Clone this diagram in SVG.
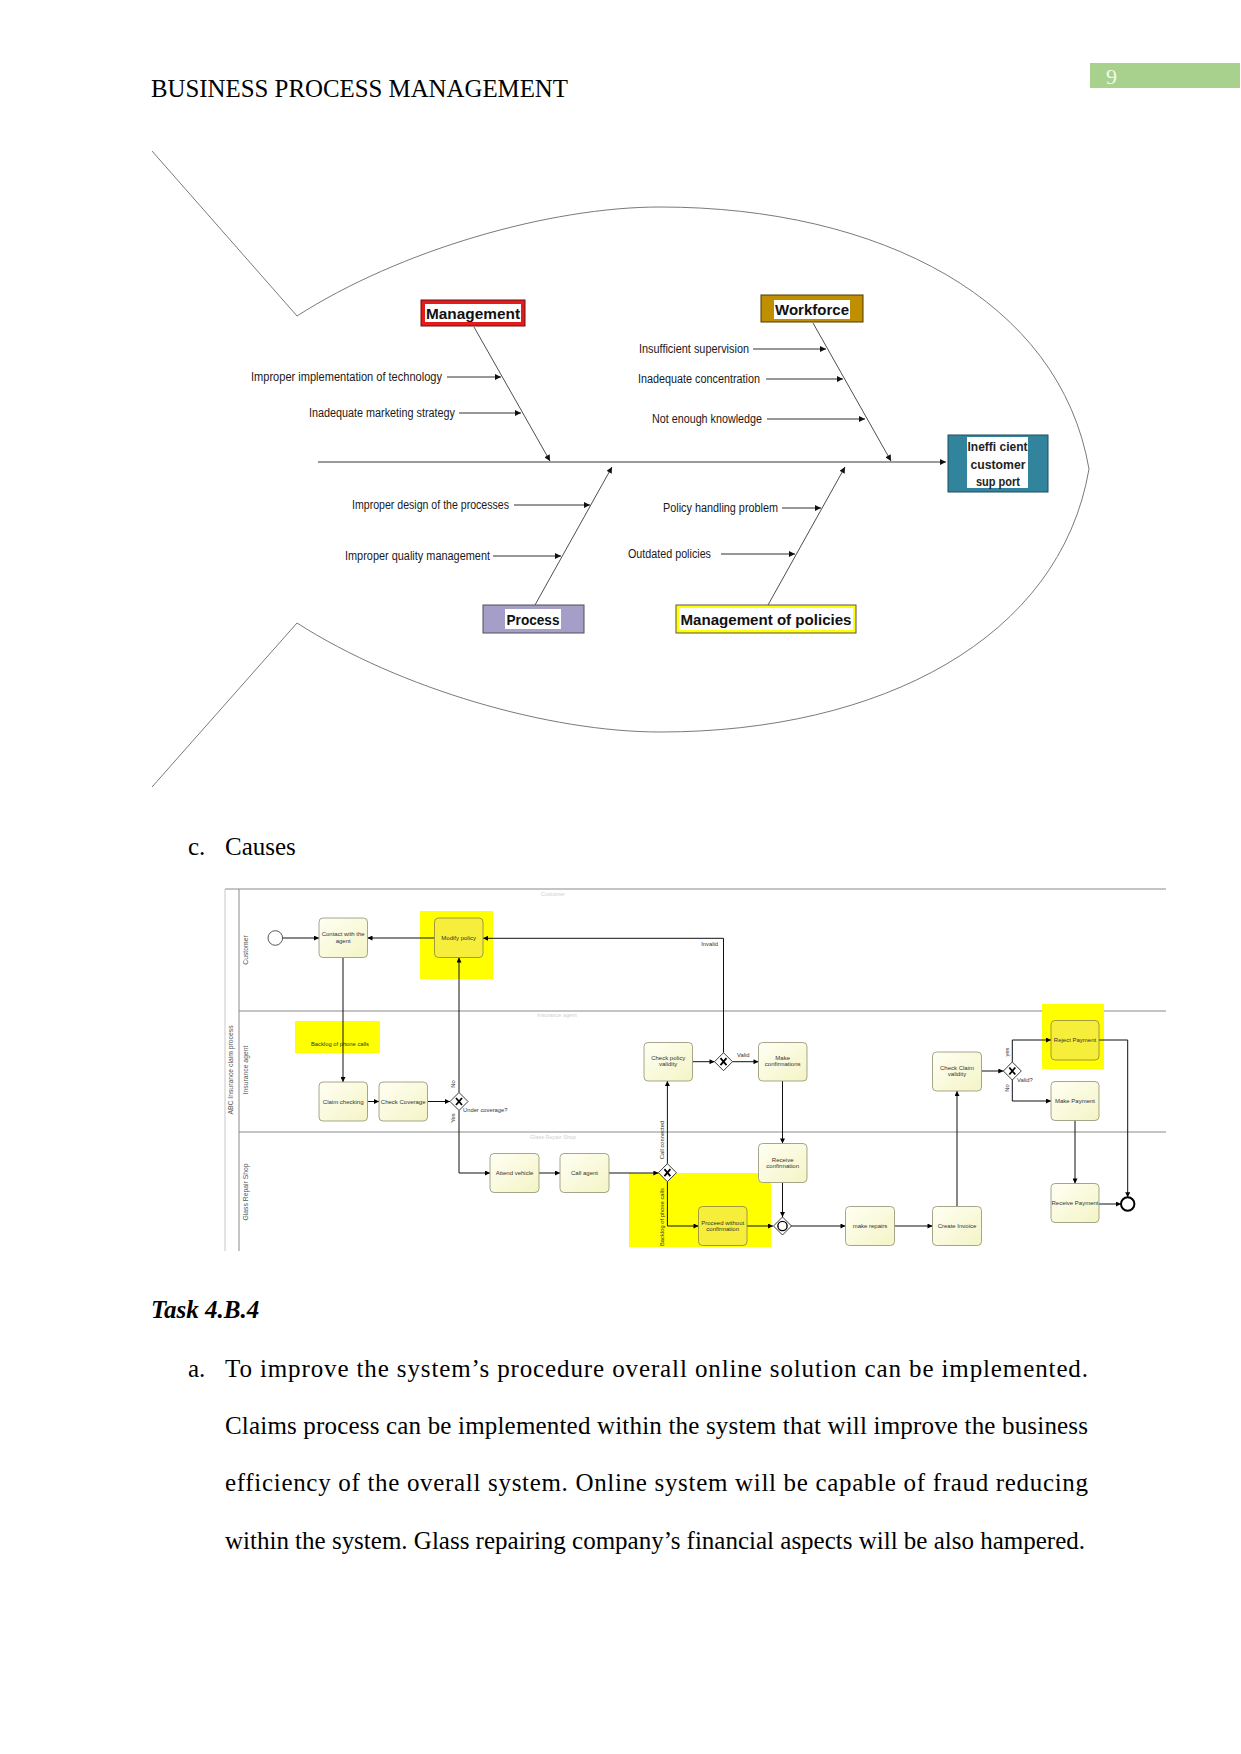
<svg xmlns="http://www.w3.org/2000/svg" width="1241" height="1754" viewBox="0 0 1241 1754">
<style>
.doc{font-family:"Liberation Serif","Times New Roman",serif;font-size:25px;fill:#000}
.fish{fill:none;stroke:#7a7a7a;stroke-width:1}
.spine{fill:none;stroke:#9a9a9a;stroke-width:2}
.bone{fill:none;stroke:#3a3a3a;stroke-width:0.9}
.cause{fill:none;stroke:#1a1a1a;stroke-width:0.9}
.lbl{font-family:"Liberation Sans",Arial,sans-serif;font-size:12.5px;fill:#1a1a1a}
.blbl{font-family:"Liberation Sans",Arial,sans-serif;font-weight:bold;font-size:15px;fill:#111}
.elbl{font-family:"Liberation Sans",Arial,sans-serif;font-weight:bold;font-size:13.5px;fill:#222}
.lane{fill:none;stroke:#8a8a8a;stroke-width:1}
.task{fill:url(#tg);stroke:#8f8f72;stroke-width:0.8}
.htask{fill:#f6ee3a;stroke:#8a8440;stroke-width:0.8}
.tt{font-family:"Liberation Sans",Arial,sans-serif;font-size:6px;fill:#333;text-anchor:middle}
.sl{font-family:"Liberation Sans",Arial,sans-serif;font-size:5.8px;fill:#333}
.ln{font-family:"Liberation Sans",Arial,sans-serif;font-size:6.8px;fill:#555;text-anchor:middle}
.faint{font-family:"Liberation Sans",Arial,sans-serif;font-size:5.5px;fill:#d0d0d0;text-anchor:middle}
.flow{fill:none;stroke:#111;stroke-width:1}
.gw{fill:#fff;stroke:#222;stroke-width:0.9}
.gx{stroke:#000;stroke-width:1.8;stroke-linecap:butt}
.hl{fill:#ffff00}
</style>
<defs>
<marker id="fa" markerUnits="userSpaceOnUse" viewBox="0 0 10 10" refX="10" refY="5" markerWidth="7" markerHeight="6" orient="auto"><path d="M0,0 L10,5 L0,10 z" fill="#111"/></marker>
<marker id="ba" markerUnits="userSpaceOnUse" viewBox="0 0 10 10" refX="10" refY="5" markerWidth="6" markerHeight="5" orient="auto"><path d="M0,0 L10,5 L0,10 z" fill="#000"/></marker>
<linearGradient id="tg" x1="0" y1="0" x2="1" y2="1"><stop offset="0" stop-color="#fffff4"/><stop offset="1" stop-color="#f4f4c6"/></linearGradient>
</defs>

<!-- page header -->
<text class="doc" x="151" y="97" textLength="417" lengthAdjust="spacingAndGlyphs">BUSINESS PROCESS MANAGEMENT</text>
<rect x="1090" y="63" width="150" height="25" fill="#a9d18e"/>
<text x="1106" y="84" font-family="Liberation Serif, serif" font-size="22" fill="#f4f8f0">9</text>

<!-- fishbone outline -->
<g id="fish-outline">
<path class="fish" d="M152,151 L297,316 C400,250 550,207 660,207 C880,207 1060,300 1089,469"/>
<path class="fish" d="M152,787 L297,623 C400,689 550,732 660,732 C880,732 1060,639 1089,469"/>
</g>

<g id="fish-connectors">
<line class="spine" x1="318" y1="462" x2="946" y2="462" marker-end="url(#fa)"/>
<line class="bone" x1="474" y1="327" x2="550" y2="461" marker-end="url(#fa)"/>
<line class="bone" x1="813" y1="323" x2="891" y2="461" marker-end="url(#fa)"/>
<line class="bone" x1="535" y1="605" x2="612" y2="467" marker-end="url(#fa)"/>
<line class="bone" x1="768" y1="605" x2="845" y2="467" marker-end="url(#fa)"/>
<line class="cause" x1="447" y1="377" x2="501" y2="377" marker-end="url(#fa)"/>
<line class="cause" x1="459" y1="413" x2="521" y2="413" marker-end="url(#fa)"/>
<line class="cause" x1="753" y1="349" x2="826" y2="349" marker-end="url(#fa)"/>
<line class="cause" x1="766" y1="379" x2="843" y2="379" marker-end="url(#fa)"/>
<line class="cause" x1="767" y1="419" x2="865" y2="419" marker-end="url(#fa)"/>
<line class="cause" x1="514" y1="505" x2="590" y2="505" marker-end="url(#fa)"/>
<line class="cause" x1="493" y1="556" x2="561" y2="556" marker-end="url(#fa)"/>
<line class="cause" x1="782" y1="508" x2="821" y2="508" marker-end="url(#fa)"/>
<line class="cause" x1="721" y1="554" x2="795" y2="554" marker-end="url(#fa)"/>
</g>

<g id="cause-labels">
<text class="lbl" x="251" y="381" textLength="191" lengthAdjust="spacingAndGlyphs">Improper implementation of technology</text>
<text class="lbl" x="309" y="417" textLength="146" lengthAdjust="spacingAndGlyphs">Inadequate marketing strategy</text>
<text class="lbl" x="639" y="353" textLength="110" lengthAdjust="spacingAndGlyphs">Insufficient supervision</text>
<text class="lbl" x="638" y="383" textLength="122" lengthAdjust="spacingAndGlyphs">Inadequate concentration</text>
<text class="lbl" x="652" y="423" textLength="110" lengthAdjust="spacingAndGlyphs">Not enough knowledge</text>
<text class="lbl" x="352" y="509" textLength="157" lengthAdjust="spacingAndGlyphs">Improper design of the processes</text>
<text class="lbl" x="345" y="560" textLength="145" lengthAdjust="spacingAndGlyphs">Improper quality management</text>
<text class="lbl" x="663" y="512" textLength="115" lengthAdjust="spacingAndGlyphs">Policy handling problem</text>
<text class="lbl" x="628" y="558" textLength="83" lengthAdjust="spacingAndGlyphs">Outdated policies</text>
</g>

<g id="node-management">
<rect x="421" y="300" width="104" height="26" fill="#e31b1b" stroke="#6a1010" stroke-width="1"/>
<rect x="425" y="304" width="96" height="18" fill="#fff"/>
<text class="blbl" x="426" y="318.5" textLength="94" lengthAdjust="spacingAndGlyphs">Management</text>
</g>
<g id="node-workforce">
<rect x="761" y="295" width="102" height="27" fill="#bf8f00" stroke="#4d3a00" stroke-width="1"/>
<rect x="774" y="300" width="76" height="19" fill="#fff"/>
<text class="blbl" x="775" y="314.5" textLength="74" lengthAdjust="spacingAndGlyphs">Workforce</text>
</g>
<g id="node-process">
<rect x="483" y="605" width="101" height="28" fill="#a59ec8" stroke="#505050" stroke-width="1"/>
<rect x="505" y="609" width="56" height="20" fill="#fff"/>
<text class="blbl" x="506.5" y="625" textLength="53" lengthAdjust="spacingAndGlyphs">Process</text>
</g>
<g id="node-policies">
<rect x="676" y="605" width="180" height="28" fill="#ffff00" stroke="#555" stroke-width="1"/>
<rect x="679" y="608" width="174" height="22" fill="#fff"/>
<text class="blbl" x="680.5" y="625" textLength="171" lengthAdjust="spacingAndGlyphs">Management of policies</text>
</g>
<g id="node-effect">
<rect x="948" y="435" width="100" height="57" fill="#31849b" stroke="#1d4f5e" stroke-width="1"/>
<rect x="967" y="437" width="61" height="51" fill="#fff"/>
<text class="elbl" x="967.5" y="451" textLength="60" lengthAdjust="spacingAndGlyphs">Ineffi cient</text>
<text class="elbl" x="970.5" y="468.5" textLength="55" lengthAdjust="spacingAndGlyphs">customer</text>
<text class="elbl" x="976" y="486" textLength="44" lengthAdjust="spacingAndGlyphs">sup port</text>
</g>

<text class="doc" x="188" y="855">c.</text>
<text class="doc" x="225" y="855">Causes</text>

<!-- BPMN pool and lanes -->
<g id="pool">
<line class="lane" x1="225" y1="889" x2="1166" y2="889"/>
<line class="lane" x1="239" y1="1011" x2="1166" y2="1011"/>
<line class="lane" x1="239" y1="1132" x2="1166" y2="1132"/>
<line x1="225" y1="889" x2="225" y2="1251" stroke="#c8c8c8" stroke-width="1"/>
<line class="lane" x1="239" y1="889" x2="239" y2="1251"/>
<text class="ln" transform="translate(233,1070) rotate(-90)">ABC Insurance claim process</text>
<text class="ln" transform="translate(248,950) rotate(-90)">Customer</text>
<text class="ln" transform="translate(248,1070) rotate(-90)">Insurance agent</text>
<text class="ln" transform="translate(248,1192) rotate(-90)">Glass Repair Shop</text>
<text class="faint" x="553" y="896">Customer</text>
<text class="faint" x="557" y="1017">Insurance agent</text>
<text class="faint" x="553" y="1139">Glass Repair Shop</text>
</g>

<!-- highlights -->
<g id="highlights">
<rect class="hl" x="420" y="911" width="73" height="68"/>
<rect class="hl" x="295" y="1021" width="85" height="32"/>
<rect class="hl" x="1042" y="1004" width="62" height="65"/>
<rect class="hl" x="629" y="1173" width="142" height="74"/>
<text class="sl" x="340" y="1046" text-anchor="middle">Backlog of phone calls</text>
</g>

<g id="bpmn-connectors">
<path class="flow" d="M282.6,938 L319,938" marker-end="url(#ba)"/>
<path class="flow" d="M434.5,938 L367.5,938" marker-end="url(#ba)"/>
<path class="flow" d="M723.5,1052.7 L723.5,938.3 L483,938.3" marker-end="url(#ba)"/>
<path class="flow" d="M343,957.5 L343,1082" marker-end="url(#ba)"/>
<path class="flow" d="M367.5,1101.5 L379,1101.5" marker-end="url(#ba)"/>
<path class="flow" d="M427.5,1101.5 L450,1101.5" marker-end="url(#ba)"/>
<path class="flow" d="M459,1092.5 L459,957.5" marker-end="url(#ba)"/>
<path class="flow" d="M459,1110.5 L459,1173 L490,1173" marker-end="url(#ba)"/>
<path class="flow" d="M539,1173 L560,1173" marker-end="url(#ba)"/>
<path class="flow" d="M609,1173 L658.4,1173" marker-end="url(#ba)"/>
<path class="flow" d="M667.4,1163.7 L667.4,1081" marker-end="url(#ba)"/>
<path class="flow" d="M667.4,1181.7 L667.4,1226 L698.5,1226" marker-end="url(#ba)"/>
<path class="flow" d="M692.5,1061.7 L714.5,1061.7" marker-end="url(#ba)"/>
<path class="flow" d="M732.5,1061.7 L758.5,1061.7" marker-end="url(#ba)"/>
<path class="flow" d="M782.5,1081 L782.5,1143.5" marker-end="url(#ba)"/>
<path class="flow" d="M782.5,1182.5 L782.5,1217" marker-end="url(#ba)"/>
<path class="flow" d="M747,1226 L773,1226" marker-end="url(#ba)"/>
<path class="flow" d="M791,1226 L845.5,1226" marker-end="url(#ba)"/>
<path class="flow" d="M894.5,1226 L932.5,1226" marker-end="url(#ba)"/>
<path class="flow" d="M957,1206.5 L957,1091" marker-end="url(#ba)"/>
<path class="flow" d="M981.5,1071 L1003.3,1071" marker-end="url(#ba)"/>
<path class="flow" d="M1012.3,1062 L1012.3,1040 L1051,1040" marker-end="url(#ba)"/>
<path class="flow" d="M1012.3,1080 L1012.3,1101 L1051,1101" marker-end="url(#ba)"/>
<path class="flow" d="M1075,1120.5 L1075,1183.5" marker-end="url(#ba)"/>
<path class="flow" d="M1099,1204 L1121,1204" marker-end="url(#ba)"/>
<path class="flow" d="M1099,1040 L1127.7,1040 L1127.7,1197.3" marker-end="url(#ba)"/>
<text class="sl" x="718" y="946" text-anchor="end">Invalid</text>
<text class="sl" x="737" y="1057">Valid</text>
<text class="sl" x="463" y="1112">Under coverage?</text>
<text class="sl" x="1017" y="1082">Valid?</text>
<text class="sl" text-anchor="middle" transform="translate(455,1084) rotate(-90)">No</text>
<text class="sl" text-anchor="middle" transform="translate(455,1118) rotate(-90)">Yes</text>
<text class="sl" text-anchor="middle" transform="translate(1009,1052) rotate(-90)">yes</text>
<text class="sl" text-anchor="middle" transform="translate(1009,1088) rotate(-90)">No</text>
<text class="sl" text-anchor="middle" transform="translate(664,1140) rotate(-90)">Call connected</text>
<text class="sl" text-anchor="middle" transform="translate(664,1217) rotate(-90)">Backlog of phone calls</text>
</g>

<!-- events -->
<g id="start-event"><circle cx="275.3" cy="938" r="7.3" fill="#fff" stroke="#444" stroke-width="0.9"/></g>
<g id="end-event"><circle cx="1127.7" cy="1204" r="6.7" fill="#fff" stroke="#000" stroke-width="2"/></g>

<!-- tasks -->
<g id="t-contact"><rect class="task" x="319" y="918" width="48.5" height="39.5" rx="4"/><text class="tt" x="343.2" y="936">Contact with the</text><text class="tt" x="343.2" y="942.5">agent</text></g>
<g id="t-modify"><rect class="htask" x="434.5" y="918" width="48.5" height="39.5" rx="4"/><text class="tt" x="458.7" y="939.8">Modify policy</text></g>
<g id="t-claimcheck"><rect class="task" x="319" y="1082" width="48.5" height="39" rx="4"/><text class="tt" x="343.2" y="1103.5">Claim checking</text></g>
<g id="t-coverage"><rect class="task" x="379" y="1082" width="48.5" height="39" rx="4"/><text class="tt" x="403.2" y="1103.5">Check Coverage</text></g>
<g id="t-policyvalid"><rect class="task" x="644" y="1042.5" width="48.5" height="38.5" rx="4"/><text class="tt" x="668.2" y="1060.3">Check policy</text><text class="tt" x="668.2" y="1066.3">validity</text></g>
<g id="t-makeconf"><rect class="task" x="758.5" y="1042.5" width="48.5" height="38.5" rx="4"/><text class="tt" x="782.7" y="1060.3">Make</text><text class="tt" x="782.7" y="1066.3">confirmations</text></g>
<g id="t-claimvalid"><rect class="task" x="932.5" y="1052" width="49" height="39" rx="4"/><text class="tt" x="957" y="1069.5">Check Claim</text><text class="tt" x="957" y="1075.5">validity</text></g>
<g id="t-reject"><rect class="htask" x="1051" y="1020.5" width="48" height="39.5" rx="4"/><text class="tt" x="1075" y="1042.3">Reject Payment</text></g>
<g id="t-makepay"><rect class="task" x="1051" y="1081.5" width="48" height="39" rx="4"/><text class="tt" x="1075" y="1103">Make Payment</text></g>
<g id="t-attend"><rect class="task" x="490" y="1153.5" width="49" height="39" rx="4"/><text class="tt" x="514.5" y="1175">Attend vehicle</text></g>
<g id="t-callagent"><rect class="task" x="560" y="1153.5" width="49" height="39" rx="4"/><text class="tt" x="584.5" y="1175">Call agent</text></g>
<g id="t-receiveconf"><rect class="task" x="758.5" y="1143.5" width="48.5" height="39" rx="4"/><text class="tt" x="782.7" y="1162">Receive</text><text class="tt" x="782.7" y="1168">confirmation</text></g>
<g id="t-proceed"><rect class="htask" x="698.5" y="1206.5" width="48.5" height="39" rx="4"/><text class="tt" x="722.7" y="1224.5">Proceed without</text><text class="tt" x="722.7" y="1230.5">confirmation</text></g>
<g id="t-repairs"><rect class="task" x="845.5" y="1206.5" width="49" height="39" rx="4"/><text class="tt" x="870" y="1228">make repairs</text></g>
<g id="t-invoice"><rect class="task" x="932.5" y="1206.5" width="49" height="39" rx="4"/><text class="tt" x="957" y="1228">Create Invoice</text></g>
<g id="t-receivepay"><rect class="task" x="1051" y="1183.5" width="48" height="39" rx="4"/><text class="tt" x="1075" y="1205">Receive Payment</text></g>

<!-- gateways -->
<g id="g-coverage"><path class="gw" d="M459,1092.5 L468,1101.5 L459,1110.5 L450,1101.5 z"/><path class="gx" d="M456,1098 L462,1105 M462,1098 L456,1105"/></g>
<g id="g-validity"><path class="gw" d="M723.5,1052.7 L732.5,1061.7 L723.5,1070.7 L714.5,1061.7 z"/><path class="gx" d="M720.5,1058.2 L726.5,1065.2 M726.5,1058.2 L720.5,1065.2"/></g>
<g id="g-valid"><path class="gw" d="M1012.3,1062 L1021.3,1071 L1012.3,1080 L1003.3,1071 z"/><path class="gx" d="M1009.3,1067.5 L1015.3,1074.5 M1015.3,1067.5 L1009.3,1074.5"/></g>
<g id="g-call"><path class="gw" d="M667.4,1163.7 L676.4,1172.7 L667.4,1181.7 L658.4,1172.7 z"/><path class="gx" d="M664.4,1169.2 L670.4,1176.2 M670.4,1169.2 L664.4,1176.2"/></g>
<g id="g-merge"><path class="gw" d="M782.5,1217 L791.5,1226 L782.5,1235 L773.5,1226 z"/><circle cx="782.5" cy="1226" r="4.6" fill="none" stroke="#000" stroke-width="1.4"/></g>

<!-- task text -->
<text class="doc" x="151" y="1318" font-weight="bold" font-style="italic">Task 4.B.4</text>
<text class="doc" x="188" y="1377">a.</text>
<text class="doc" x="225" y="1377" textLength="863" lengthAdjust="spacing">To improve the system’s procedure overall online solution can be implemented.</text>
<text class="doc" x="225" y="1434" textLength="863" lengthAdjust="spacing">Claims process can be implemented within the system that will improve the business</text>
<text class="doc" x="225" y="1491" textLength="863" lengthAdjust="spacing">efficiency of the overall system. Online system will be capable of fraud reducing</text>
<text class="doc" x="225" y="1549" textLength="860" lengthAdjust="spacing">within the system. Glass repairing company’s financial aspects will be also hampered.</text>
</svg>
